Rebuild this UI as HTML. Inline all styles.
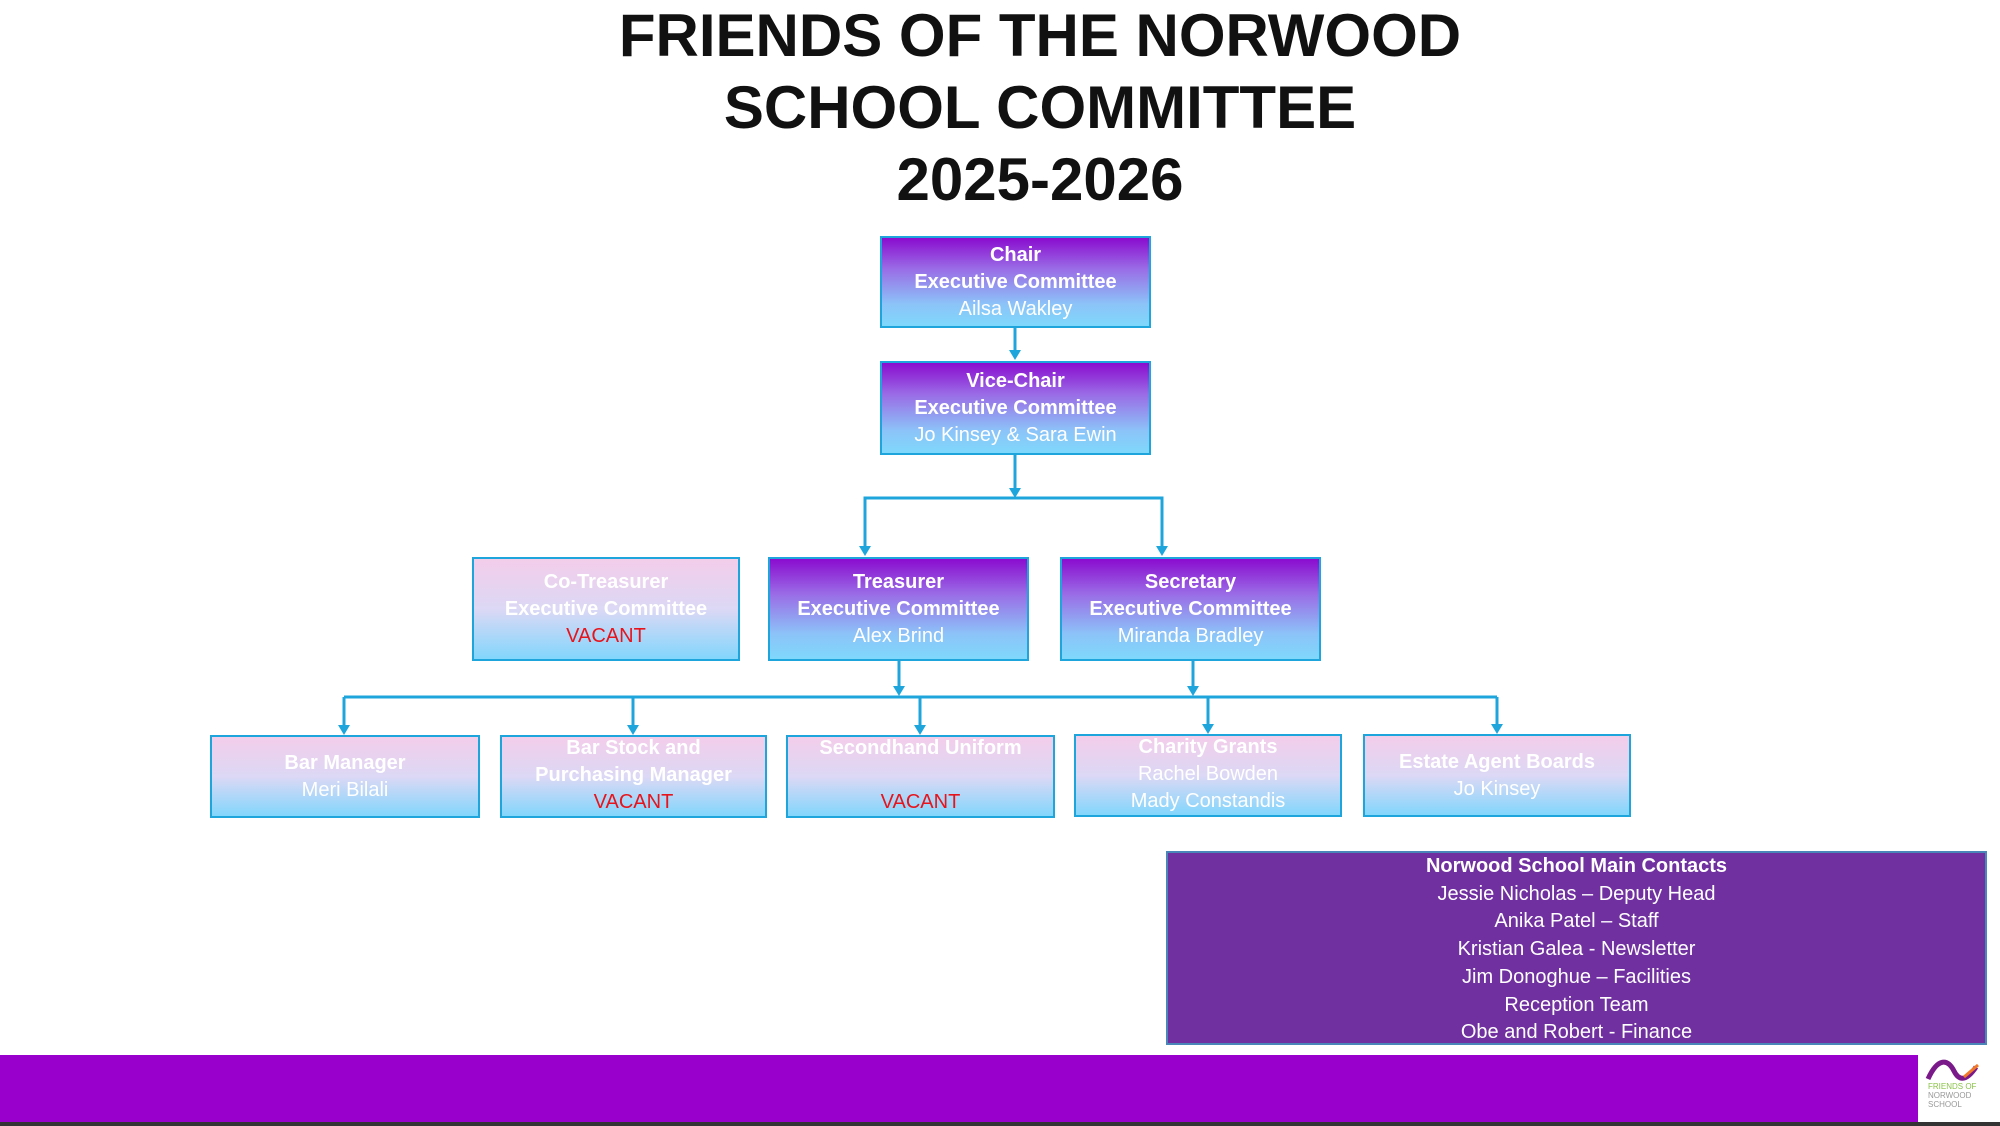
<!DOCTYPE html>
<html><head><meta charset="utf-8"><style>
body{margin:0;width:2000px;height:1126px;position:relative;background:#fff;overflow:hidden;font-family:"Liberation Sans",sans-serif}
.t{position:absolute;left:0;width:2080px;text-align:center;font-weight:bold;font-size:60px;color:#111;line-height:72px}
.b{position:absolute;box-sizing:border-box;border:2px solid #1ea6dc;display:flex;flex-direction:column;justify-content:center;align-items:center;color:#fff;font-size:20px;line-height:27px;text-align:center}
.d{background:linear-gradient(#8a0ccf,#9a6ce6 35%,#8cc3f8 75%,#7fd8fc)}
.l{background:linear-gradient(#f3cdea,#dcd8f5 50%,#82d6fc)}
.b b{font-weight:bold}
.v{color:#e8141c}
</style></head><body>
<div class="t" style="top:0">FRIENDS OF THE NORWOOD</div>
<div class="t" style="top:72px">SCHOOL COMMITTEE</div>
<div class="t" style="top:144px">2025-2026</div>

<svg style="position:absolute;left:0;top:0" width="2000" height="1126">
<g stroke="#1ea6dc" stroke-width="3" fill="none">
<line x1="1015" y1="328" x2="1015" y2="352"/>
<line x1="1015" y1="455" x2="1015" y2="490"/>
<polyline points="865,550 865,498 1162,498 1162,550"/>
<line x1="899" y1="661" x2="899" y2="688"/>
<line x1="1193" y1="661" x2="1193" y2="688"/>
<line x1="344" y1="697" x2="1497" y2="697"/>
<line x1="344" y1="697" x2="344" y2="727"/>
<line x1="633" y1="697" x2="633" y2="727"/>
<line x1="920" y1="697" x2="920" y2="727"/>
<line x1="1208" y1="697" x2="1208" y2="726"/>
<line x1="1497" y1="697" x2="1497" y2="726"/>
</g>
<g fill="#1ea6dc">
<polygon points="1009,350 1021,350 1015,360"/>
<polygon points="1009,488 1021,488 1015,498"/>
<polygon points="859,546 871,546 865,556"/>
<polygon points="1156,546 1168,546 1162,556"/>
<polygon points="893,686 905,686 899,696"/>
<polygon points="1187,686 1199,686 1193,696"/>
<polygon points="338,725 350,725 344,735"/>
<polygon points="627,725 639,725 633,735"/>
<polygon points="914,725 926,725 920,735"/>
<polygon points="1202,724 1214,724 1208,734"/>
<polygon points="1491,724 1503,724 1497,734"/>
</g>
</svg>

<div class="b d" style="left:880px;top:236px;width:271px;height:92px"><b>Chair</b><b>Executive Committee</b><span>Ailsa Wakley</span></div>
<div class="b d" style="left:880px;top:361px;width:271px;height:94px"><b>Vice-Chair</b><b>Executive Committee</b><span>Jo Kinsey &amp; Sara Ewin</span></div>

<div class="b l" style="left:472px;top:557px;width:268px;height:104px"><b>Co-Treasurer</b><b>Executive Committee</b><span class="v">VACANT</span></div>
<div class="b d" style="left:768px;top:557px;width:261px;height:104px"><b>Treasurer</b><b>Executive Committee</b><span>Alex Brind</span></div>
<div class="b d" style="left:1060px;top:557px;width:261px;height:104px"><b>Secretary</b><b>Executive Committee</b><span>Miranda Bradley</span></div>

<div class="b l" style="left:210px;top:735px;width:270px;height:83px"><b>Bar Manager</b><span>Meri Bilali</span></div>
<div class="b l" style="left:500px;top:735px;width:267px;height:83px;justify-content:flex-start"><b style="margin-top:-2px">Bar Stock and</b><b>Purchasing Manager</b><span class="v">VACANT</span></div>
<div class="b l" style="left:786px;top:735px;width:269px;height:83px;justify-content:flex-start"><b style="margin-top:-2px">Secondhand Uniform</b><span>&nbsp;</span><span class="v">VACANT</span></div>
<div class="b l" style="left:1074px;top:734px;width:268px;height:83px;justify-content:flex-start"><b style="margin-top:-2px">Charity Grants</b><span>Rachel Bowden</span><span>Mady Constandis</span></div>
<div class="b l" style="left:1363px;top:734px;width:268px;height:83px"><b>Estate Agent Boards</b><span>Jo Kinsey</span></div>

<div style="position:absolute;left:1166px;top:851px;width:821px;height:194px;box-sizing:border-box;background:#7030a0;border:2px solid #4a86b8;color:#fff;text-align:center;font-size:20px;line-height:27.7px;padding-top:0">
<b>Norwood School Main Contacts</b><br>Jessie Nicholas – Deputy Head<br>Anika Patel – Staff<br>Kristian Galea - Newsletter<br>Jim Donoghue – Facilities<br>Reception Team<br>Obe and Robert - Finance</div>

<div style="position:absolute;left:0;top:1055px;width:1918px;height:67px;background:#9900cc"></div>
<div style="position:absolute;left:0;top:1122px;width:2000px;height:4px;background:#333"></div>
<svg style="position:absolute;left:1924px;top:1055px" width="70" height="60">
<path d="M4,24 C14,2 24,4 30,16 C36,28 44,24 52,12" stroke="#7a1a8a" stroke-width="5" fill="none"/>
<path d="M40,22 L54,10" stroke="#f07a2a" stroke-width="3"/>
<text x="4" y="34" font-size="8" fill="#8bc34a" font-family="Liberation Sans">FRIENDS OF</text>
<text x="4" y="43" font-size="8" fill="#999" font-family="Liberation Sans">NORWOOD</text>
<text x="4" y="52" font-size="8" fill="#999" font-family="Liberation Sans">SCHOOL</text>
</svg>
</body></html>
